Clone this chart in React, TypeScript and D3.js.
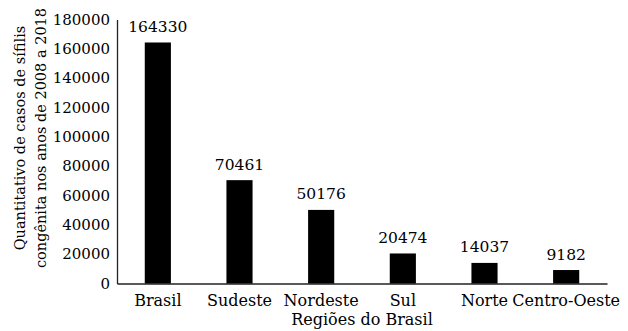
import * as d3 from 'd3';
import React, { useEffect, useRef } from 'react';

const regions = ['Brasil', 'Sudeste', 'Nordeste', 'Sul', 'Norte', 'Centro-Oeste'];
const casos = [164330, 70461, 50176, 20474, 14037, 9182];
const yTicks = [0, 20000, 40000, 60000, 80000, 100000, 120000, 140000, 160000, 180000];
const yTitle = ['Quantitativo de casos de sífilis', 'congênita nos anos de 2008 a 2018'];
const xTitle = 'Regiões do Brasil';

const width = 628;
const height = 331;
const margin = { top: 19.5, right: 21, bottom: 47.5, left: 117 };
const font = '"DejaVu Serif", serif';

const App = () => {
    const svgRef = useRef(null);

    useEffect(() => {
        const svg = d3.select(svgRef.current);
        svg.selectAll('*').remove();

        const x = d3.scaleBand()
            .domain(regions)
            .range([margin.left, width - margin.right])
            .paddingInner(0.68)
            .paddingOuter(0.34);

        const y = d3.scaleLinear()
            .domain([0, 180000])
            .range([height - margin.bottom, margin.top]);

        // y axis: line + labels, no tick marks
        const yAxis = svg.append('g')
            .attr('transform', 'translate(' + margin.left + ',0)')
            .call(d3.axisLeft(y).tickValues(yTicks).tickSize(0).tickPadding(7).tickFormat(d3.format('d')));
        yAxis.select('.domain').attr('stroke', '#222').attr('stroke-width', 1.3);
        yAxis.selectAll('text').attr('font-family', font).attr('font-size', 15).attr('fill', '#000');

        const xAxis = svg.append('g')
            .attr('transform', 'translate(0,' + y(0) + ')')
            .call(d3.axisBottom(x).tickSize(0).tickPadding(11));
        xAxis.select('.domain').attr('stroke', '#222').attr('stroke-width', 1.3);
        xAxis.selectAll('text').attr('font-family', font).attr('font-size', 16).attr('fill', '#000');

        svg.append('g')
            .selectAll('rect')
            .data(casos)
            .join('rect')
            .attr('x', (d, i) => x(regions[i]))
            .attr('width', x.bandwidth())
            .attr('y', d => y(d))
            .attr('height', d => y(0) - y(d))
            .attr('fill', '#000');

        svg.append('g')
            .selectAll('text')
            .data(casos)
            .join('text')
            .attr('x', (d, i) => x(regions[i]) + x.bandwidth() / 2)
            .attr('y', d => y(d) - 10.5)
            .attr('text-anchor', 'middle')
            .attr('font-family', font)
            .attr('font-size', 15.5)
            .text(d => d);

        svg.append('text')
            .attr('x', (margin.left + width - margin.right) / 2)
            .attr('y', 325)
            .attr('text-anchor', 'middle')
            .attr('font-family', font)
            .attr('font-size', 16)
            .text(xTitle);

        svg.append('g')
            .selectAll('text')
            .data(yTitle)
            .join('text')
            .attr('transform', (d, i) => 'translate(' + (25 + i * 21) + ',138) rotate(-90)')
            .attr('text-anchor', 'middle')
            .attr('font-family', font)
            .attr('font-size', 14.5)
            .text(d => d);
    }, []);

    return (
        <svg ref={svgRef} width={width} height={height} style={{ position: 'absolute', left: 0, top: 0, background: '#fff' }} />
    );
};

export default App;
